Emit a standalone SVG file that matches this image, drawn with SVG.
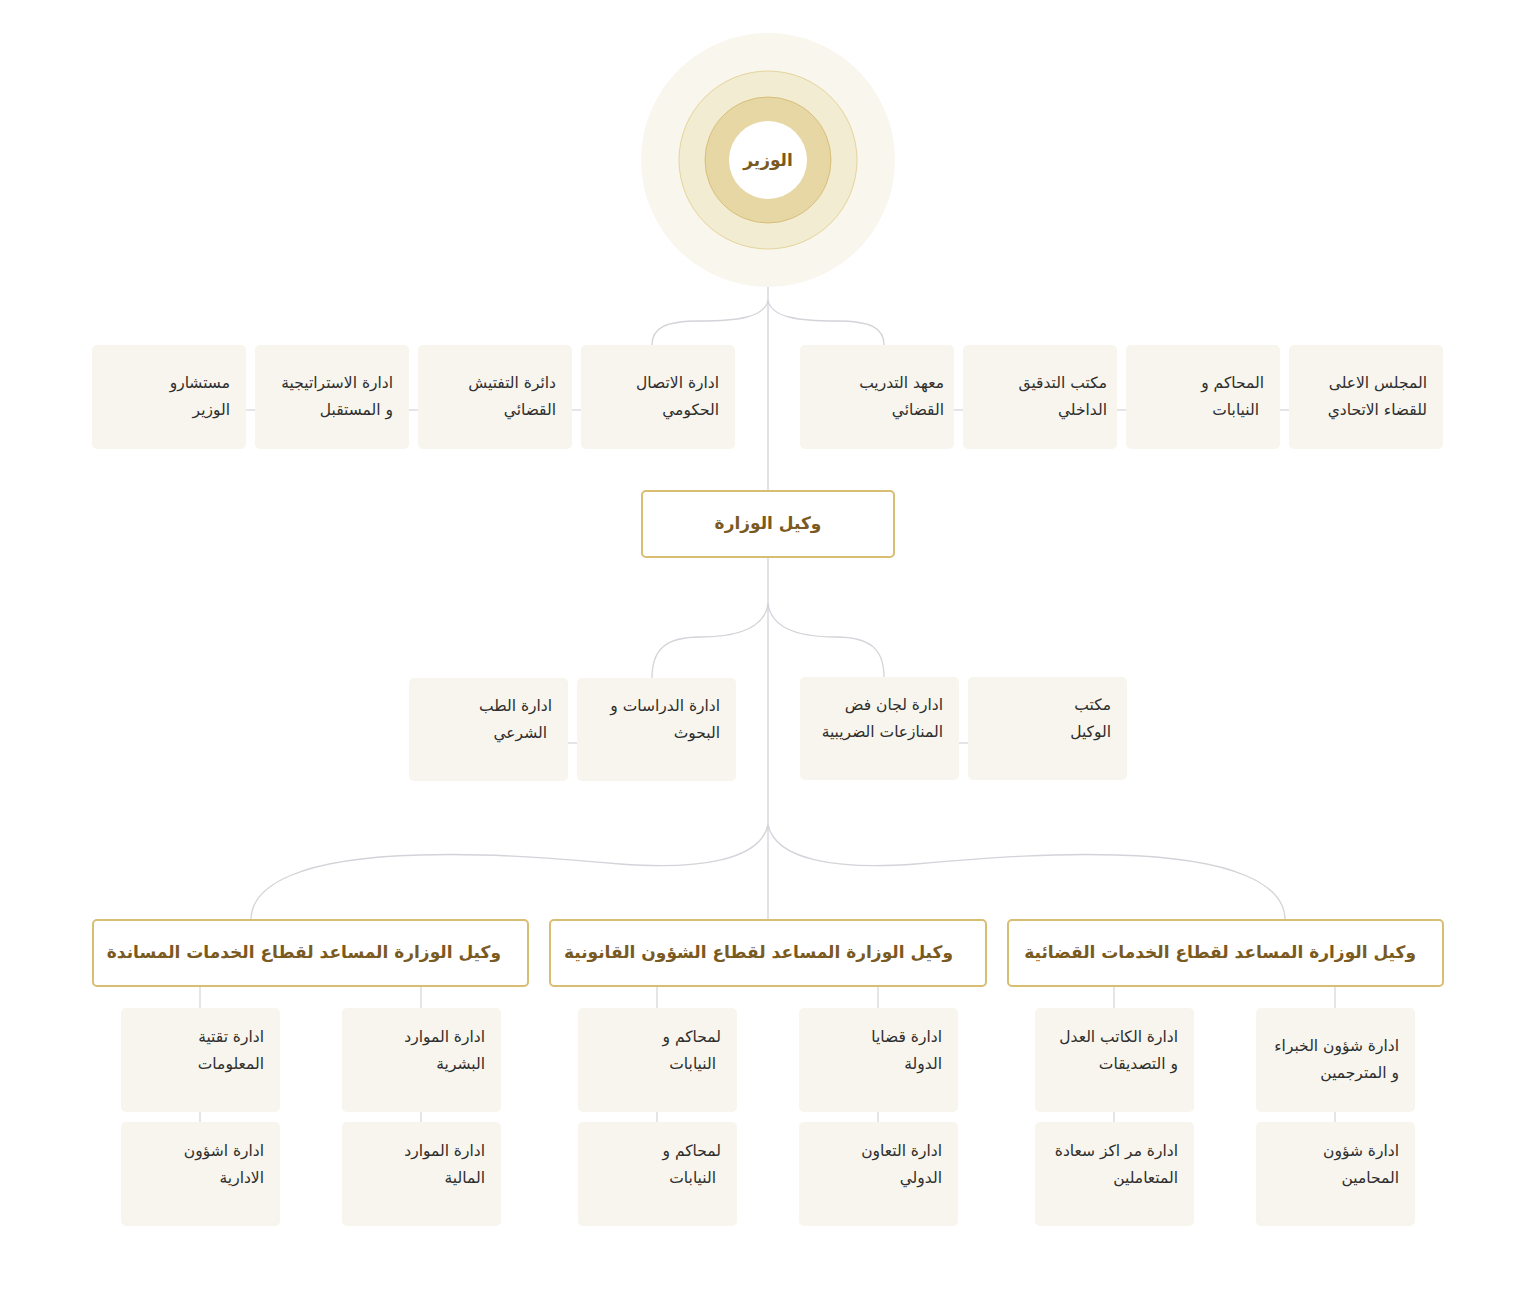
<svg xmlns="http://www.w3.org/2000/svg" width="1536" height="1307" viewBox="0 0 1536 1307">
<style>
.bg{fill:#ffffff}
.conn{fill:none;stroke:#d3d3d9;stroke-width:1.3}
.link{fill:none;stroke:#dcdce2;stroke-width:1.5}
.box{fill:#f7f5ed}
.head{fill:#ffffff;stroke:#d8be72;stroke-width:2}
.t{font-family:"DejaVu Sans",sans-serif;font-size:15.5px;fill:#2e2e2e;text-anchor:end}
.h{font-family:"DejaVu Sans",sans-serif;font-size:17px;font-weight:bold;fill:#7a5a1f}
</style>
<rect class="bg" x="0" y="0" width="1536" height="1307"/>
<g id="connectors">
<line class="conn" x1="768" y1="287" x2="768" y2="920"/>
<path class="conn" d="M768,300 C765,318 735,321 700,321 C665,321 652,328 652,345"/>
<path class="conn" d="M768,300 C771,318 801,321 836,321 C871,321 884,328 884,345"/>
<path class="conn" d="M768,603 C765,630 735,637 700,637 C665,637 652,650 652,678"/>
<path class="conn" d="M768,603 C771,630 801,637 836,637 C871,637 884,650 884,677"/>
<path class="conn" d="M768,825 C760,860 700,870 620,864 C540,857 480,853 420,855 C300,858 251,885 251,920"/>
<path class="conn" d="M768,825 C776,860 836,870 916,864 C996,857 1056,853 1116,855 C1236,858 1285,885 1285,920"/>
<line class="link" x1="246" y1="410" x2="255" y2="410"/>
<line class="link" x1="409" y1="410" x2="418" y2="410"/>
<line class="link" x1="572" y1="410" x2="581" y2="410"/>
<line class="link" x1="954" y1="410" x2="963" y2="410"/>
<line class="link" x1="1117" y1="410" x2="1126" y2="410"/>
<line class="link" x1="1280" y1="410" x2="1289" y2="410"/>
<line class="link" x1="568" y1="743" x2="577" y2="743"/>
<line class="link" x1="959" y1="743" x2="968" y2="743"/>
<line class="link" x1="200" y1="986" x2="200" y2="1122"/>
<line class="link" x1="421" y1="986" x2="421" y2="1122"/>
<line class="link" x1="657" y1="986" x2="657" y2="1122"/>
<line class="link" x1="878" y1="986" x2="878" y2="1122"/>
<line class="link" x1="1114" y1="986" x2="1114" y2="1122"/>
<line class="link" x1="1335" y1="986" x2="1335" y2="1122"/>
</g>
<g id="minister">
<circle cx="768" cy="160" r="127" fill="#f8f6ed"/>
<circle cx="768" cy="160" r="89" fill="#f1ecd2" stroke="#e6d49c" stroke-width="1"/>
<circle cx="768" cy="160" r="63" fill="#e6d7a5" stroke="#d7bf78" stroke-width="1"/>
<circle cx="768" cy="160" r="39" fill="#ffffff"/>
<text class="h" x="768" y="166" text-anchor="middle" font-size="16.5">الوزير</text>
</g>
<g id="n-advisors"><rect class="box" x="92" y="345" width="154" height="104" rx="5"/><text class="t" x="230" y="388">مستشارو</text><text class="t" x="230" y="415">الوزير</text></g>
<g id="n-strategy"><rect class="box" x="255" y="345" width="154" height="104" rx="5"/><text class="t" x="393" y="388">ادارة الاستراتيجية</text><text class="t" x="393" y="415">و المستقبل</text></g>
<g id="n-inspection"><rect class="box" x="418" y="345" width="154" height="104" rx="5"/><text class="t" x="556" y="388">دائرة التفتيش</text><text class="t" x="556" y="415">القضائي</text></g>
<g id="n-comm"><rect class="box" x="581" y="345" width="154" height="104" rx="5"/><text class="t" x="719" y="388">ادارة الاتصال</text><text class="t" x="719" y="415">الحكومي</text></g>
<g id="n-institute"><rect class="box" x="800" y="345" width="154" height="104" rx="5"/><text class="t" x="944" y="388">معهد التدريب</text><text class="t" x="944" y="415">القضائي</text></g>
<g id="n-audit"><rect class="box" x="963" y="345" width="154" height="104" rx="5"/><text class="t" x="1107" y="388">مكتب التدقيق</text><text class="t" x="1107" y="415">الداخلي</text></g>
<g id="n-courts"><rect class="box" x="1126" y="345" width="154" height="104" rx="5"/><text class="t" x="1264" y="388">المحاكم و</text><text class="t" x="1259" y="415">النيابات</text></g>
<g id="n-council"><rect class="box" x="1289" y="345" width="154" height="104" rx="5"/><text class="t" x="1427" y="388">المجلس الاعلى</text><text class="t" x="1427" y="415">للقضاء الاتحادي</text></g>
<g id="undersecretary"><rect class="head" x="642" y="491" width="252" height="66" rx="4"/><text class="h" x="768" y="529" text-anchor="middle" font-size="16">وكيل الوزارة</text></g>
<g id="n-forensic"><rect class="box" x="409" y="678" width="159" height="103" rx="5"/><text class="t" x="552" y="711">ادارة الطب</text><text class="t" x="547" y="738">الشرعي</text></g>
<g id="n-studies"><rect class="box" x="577" y="678" width="159" height="103" rx="5"/><text class="t" x="720" y="711">ادارة الدراسات و</text><text class="t" x="720" y="738">البحوث</text></g>
<g id="n-tax"><rect class="box" x="800" y="677" width="159" height="103" rx="5"/><text class="t" x="943" y="710">ادارة لجان فض</text><text class="t" x="943" y="737">المنازعات الضريبية</text></g>
<g id="n-office"><rect class="box" x="968" y="677" width="159" height="103" rx="5"/><text class="t" x="1111" y="710">مكتب</text><text class="t" x="1111" y="737">الوكيل</text></g>
<g id="a-support"><rect class="head" x="93" y="920" width="435" height="66" rx="4"/><text class="h" x="501" y="958" text-anchor="end">وكيل الوزارة المساعد لقطاع الخدمات المساندة</text></g>
<g id="a-legal"><rect class="head" x="550" y="920" width="436" height="66" rx="4"/><text class="h" x="953" y="958" text-anchor="end">وكيل الوزارة المساعد لقطاع الشؤون القانونية</text></g>
<g id="a-judicial"><rect class="head" x="1008" y="920" width="435" height="66" rx="4"/><text class="h" x="1416" y="958" text-anchor="end">وكيل الوزارة المساعد لقطاع الخدمات القضائية</text></g>
<g id="b-it"><rect class="box" x="121" y="1008" width="159" height="104" rx="5"/><text class="t" x="264" y="1042">ادارة تقتية</text><text class="t" x="264" y="1069">المعلومات</text></g>
<g id="b-admin"><rect class="box" x="121" y="1122" width="159" height="104" rx="5"/><text class="t" x="264" y="1156">ادارة اشؤون</text><text class="t" x="264" y="1183">الادارية</text></g>
<g id="b-hr"><rect class="box" x="342" y="1008" width="159" height="104" rx="5"/><text class="t" x="485" y="1042">ادارة الموارد</text><text class="t" x="485" y="1069">البشرية</text></g>
<g id="b-finance"><rect class="box" x="342" y="1122" width="159" height="104" rx="5"/><text class="t" x="485" y="1156">ادارة الموارد</text><text class="t" x="485" y="1183">المالية</text></g>
<g id="b-courts1"><rect class="box" x="578" y="1008" width="159" height="104" rx="5"/><text class="t" x="721" y="1042">لمحاكم و</text><text class="t" x="716" y="1069">النيابات</text></g>
<g id="b-courts2"><rect class="box" x="578" y="1122" width="159" height="104" rx="5"/><text class="t" x="721" y="1156">لمحاكم و</text><text class="t" x="716" y="1183">النيابات</text></g>
<g id="b-state"><rect class="box" x="799" y="1008" width="159" height="104" rx="5"/><text class="t" x="942" y="1042">ادارة قضايا</text><text class="t" x="942" y="1069">الدولة</text></g>
<g id="b-intl"><rect class="box" x="799" y="1122" width="159" height="104" rx="5"/><text class="t" x="942" y="1156">ادارة التعاون</text><text class="t" x="942" y="1183">الدولي</text></g>
<g id="b-notary"><rect class="box" x="1035" y="1008" width="159" height="104" rx="5"/><text class="t" x="1178" y="1042">ادارة الكاتب العدل</text><text class="t" x="1178" y="1069">و التصديقات</text></g>
<g id="b-happiness"><rect class="box" x="1035" y="1122" width="159" height="104" rx="5"/><text class="t" x="1178" y="1156">ادارة مر اكز سعادة</text><text class="t" x="1178" y="1183">المتعاملين</text></g>
<g id="b-experts"><rect class="box" x="1256" y="1008" width="159" height="104" rx="5"/><text class="t" x="1399" y="1051">ادارة شؤون الخبراء</text><text class="t" x="1399" y="1078">و المترجمين</text></g>
<g id="b-lawyers"><rect class="box" x="1256" y="1122" width="159" height="104" rx="5"/><text class="t" x="1399" y="1156">ادارة شؤون</text><text class="t" x="1399" y="1183">المحامين</text></g>
</svg>
